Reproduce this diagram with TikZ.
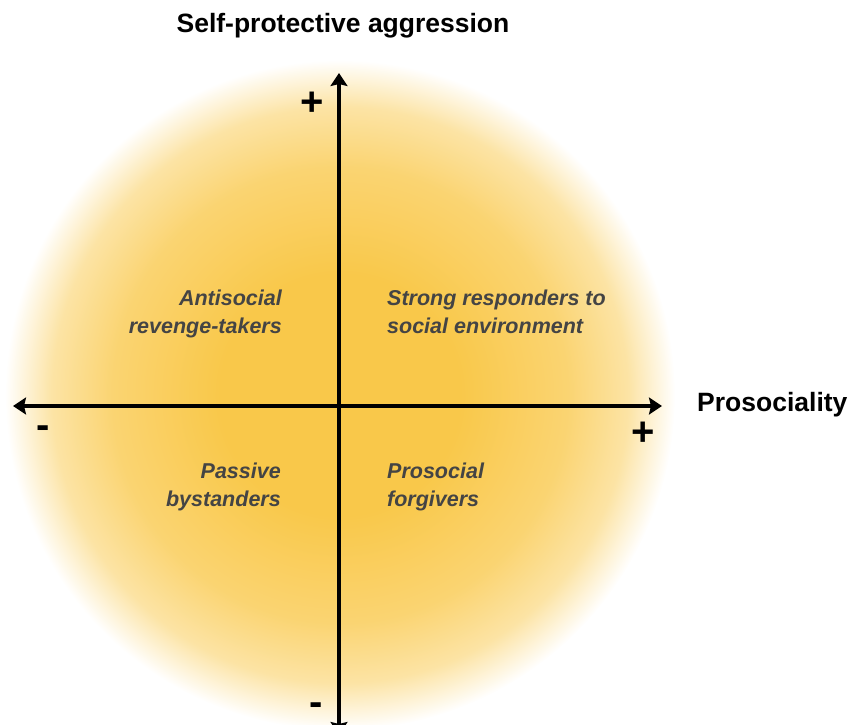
\documentclass[tikz,border=0pt]{standalone}
\usepackage{fontspec}
\setmainfont{Liberation Sans}
\usetikzlibrary{arrows.meta}
\definecolor{sunyellow}{HTML}{F9C84A}
\definecolor{labelgray}{HTML}{444444}
\pgfdeclareradialshading{sun}{\pgfpoint{0bp}{0bp}}{%
  color(0bp)=(sunyellow); color(9bp)=(sunyellow);
  color(17bp)=(sunyellow!78!white); color(21.5bp)=(sunyellow!50!white);
  color(25bp)=(white); color(50bp)=(white)}

\begin{document}
\begin{tikzpicture}[x=1pt, y=-1pt,
    axis/.style={line width=3.5pt,
      {Stealth[length=13pt, width=17pt, inset=2pt]}-{Stealth[length=13pt, width=17pt, inset=2pt]}},
    axislabel/.style={font=\fontsize{26.5}{30}\selectfont\bfseries, inner sep=0pt},
    sign/.style={font=\fontsize{40}{44}\selectfont\bfseries, inner sep=0pt},
    quadrant/.style={font=\fontsize{21.5}{28}\selectfont\bfseries\itshape,
      text=labelgray, inner sep=0pt}]
    \useasboundingbox (0,0) rectangle (852,724);
    \shade[shading=sun] (340,395) circle (335pt);

    % axes
    \coordinate (west) at (13,406);
    \coordinate (east) at (662,406);
    \coordinate (north) at (339,73);
    \coordinate (south) at (339,735);
    \draw[axis] (west) -- (east);
    \draw[axis] (north) -- (south);

    \node[axislabel, anchor=base] (title) at (343,32) {Self-protective aggression};
    \node[axislabel, anchor=base west] (prosoc) at (697,411) {Prosociality};

    \node[sign] (yplus) at (312.5,104) {+};
    \node[sign] (yminus) at (316,709) {-};
    \node[sign] (xminus) at (43,432) {-};
    \node[sign] (xplus) at (643,434) {+};

    % quadrants
    \node[quadrant, anchor=east, align=right] (antisocial) at (282,313.5) {Antisocial\\revenge-takers};
    \node[quadrant, anchor=west, align=left] (responders) at (387,311.5) {Strong responders to\\social environment};
    \node[quadrant, anchor=east, align=right] (passive) at (281,486.5) {Passive\\bystanders};
    \node[quadrant, anchor=west, align=left] (forgivers) at (387,486.5) {Prosocial\\forgivers};
\end{tikzpicture}
\end{document}
